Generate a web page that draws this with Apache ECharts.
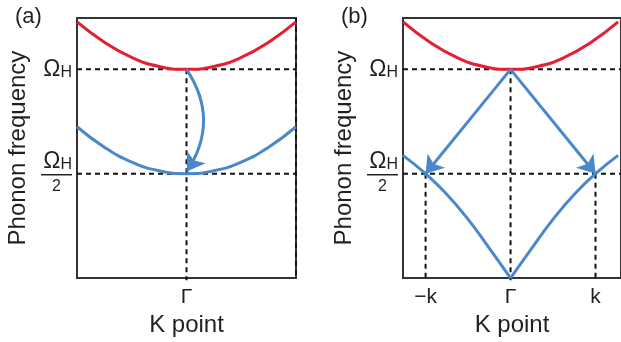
<!DOCTYPE html>
<html><head><meta charset="utf-8">
<script src="https://cdn.jsdelivr.net/npm/echarts@6/dist/echarts.min.js"></script>
<style>html,body{margin:0;padding:0;background:#fff}#c{width:621px;height:342px}</style>
</head><body><div id="c"></div>
<script>
// ---- data ----
const kA = [-1, -0.75, -0.5, -0.25, 0, 0.25, 0.5, 0.75, 1];
const upperA = [1.227, 1.13, 1.057, 1.014, 1, 1.014, 1.057, 1.13, 1.227];
const lowerA = [0.725, 0.627, 0.556, 0.514, 0.5, 0.514, 0.556, 0.627, 0.725];
const kB = [-1, -0.75, -0.5, -0.25, 0, 0.25, 0.5, 0.75, 1];
const upperB = [1.227, 1.13, 1.057, 1.014, 1, 1.014, 1.057, 1.13, 1.227];
const kBleft = [-1, -0.79, -0.6, -0.4, -0.2, 0];
const acousticLeft = [0.588, 0.5, 0.405, 0.285, 0.145, 0];
const kBright = [0, 0.2, 0.4, 0.6, 0.79, 1];
const acousticRight = [0, 0.145, 0.285, 0.405, 0.5, 0.588];
const omegaH = 1, halfOmega = 0.5, kPt = 0.79;
const xTicksA = ['Γ'];
const xTicksB = ['−k', 'Γ', 'k'];

const RED = '#e61e32', BLUE = '#4a88cb', TXT = '#231f20';
const FF = 'Liberation Sans, Arial, sans-serif';
const zip = (xs, ys) => xs.map((x, i) => [x, ys[i]]);

function yLabel(v) {
  if (Math.abs(v - omegaH) < 1e-6) return '{o|Ω}{s|H}';
  return '{o|Ω}{s|H}\n{bar|}\n{t|2}';
}
const rich = {
  o: {fontSize: 23, fontFamily: FF, color: TXT, lineHeight: 22},
  s: {fontSize: 16, fontFamily: FF, color: TXT, lineHeight: 10, verticalAlign: 'bottom'},
  bar: {width: 31, height: 1.5, lineHeight: 4, backgroundColor: TXT},
  t: {fontSize: 16, fontFamily: FF, color: TXT, width: 31, align: 'center', lineHeight: 20}
};

function yAxis(idx) {
  return {
    type: 'value', gridIndex: idx, min: 0, max: 1.246,
    name: 'Phonon frequency', nameLocation: 'middle', nameGap: 47,
    nameTextStyle: {fontSize: 24, fontFamily: FF, color: TXT},
    axisLine: {show: false}, axisTick: {show: false}, splitLine: {show: false},
    axisLabel: {customValues: [halfOmega, omegaH], formatter: yLabel, rich: rich, margin: 5, showMinLabel: true, showMaxLabel: true}
  };
}
function xAxis(idx, vals, labels, max) {
  return {
    type: 'value', gridIndex: idx, min: -1, max: max,
    name: 'K point', nameLocation: 'middle', nameGap: 30,
    nameTextStyle: {fontSize: 24, fontFamily: FF, color: TXT},
    axisLine: {show: false}, axisTick: {show: false}, splitLine: {show: false},
    axisLabel: {customValues: vals, formatter: v => labels[vals.findIndex(u => Math.abs(u - v) < 1e-6)],
      fontSize: 21, fontFamily: FF, color: TXT, margin: 9}
  };
}
function lineS(g, data, color, extra) {
  return Object.assign({type: 'line', xAxisIndex: g, yAxisIndex: g, data: data, showSymbol: false, symbol: 'none',
    lineStyle: {color: color, width: 3}, clip: true, z: 5, smooth: true, silent: true}, extra || {});
}
function dash(g, pts) {
  return {type: 'line', xAxisIndex: g, yAxisIndex: g, data: pts, symbol: 'none', silent: true, z: 3,
    lineStyle: {color: '#111', width: 2, type: [5, 4]}, clip: false};
}
function arrow(g, from, to, curv) {
  return {type: 'lines', coordinateSystem: 'cartesian2d', xAxisIndex: g, yAxisIndex: g, silent: true, z: 6,
    symbol: ['none', 'arrow'], symbolSize: [1, 17],
    lineStyle: {color: BLUE, width: 3, curveness: curv, opacity: 1},
    data: [{coords: [from, to]}]};
}

const chart = echarts.init(document.getElementById('c'), null, {renderer: 'canvas'});
chart.setOption({
  animation: false,
  title: [
    {text: '(a)', left: 10, top: 1, textStyle: {fontSize: 22, fontWeight: 'normal', fontFamily: FF, color: TXT}},
    {text: '(b)', left: 336, top: 1, textStyle: {fontSize: 22, fontWeight: 'normal', fontFamily: FF, color: TXT}}
  ],
  grid: [
    {left: 77, top: 18, width: 219, height: 263, show: true, borderColor: '#333', borderWidth: 2, backgroundColor: 'transparent'},
    {left: 403, top: 18, width: 222, height: 263, show: true, borderColor: '#333', borderWidth: 2, backgroundColor: 'transparent'}
  ],
  xAxis: [xAxis(0, [0], xTicksA, 1), xAxis(1, [-kPt, 0, kPt], xTicksB, 1.027)],
  yAxis: [yAxis(0), yAxis(1)],
  series: [
    // panel a guides
    dash(0, [[-1, omegaH], [1, omegaH]]),
    dash(0, [[-1, halfOmega], [1, halfOmega]]),
    dash(0, [[0, omegaH], [0, -0.01]]),
    dash(0, [[1, 1.246], [1, 0]]),
    lineS(0, zip(kA, upperA), RED),
    lineS(0, zip(kA, lowerA), BLUE),
    arrow(0, [0, omegaH], [0.005, 0.512], 0.33),
    // panel b guides
    dash(1, [[-1, omegaH], [1.027, omegaH]]),
    dash(1, [[-1, halfOmega], [1.027, halfOmega]]),
    dash(1, [[0, omegaH], [0, -0.01]]),
    dash(1, [[-kPt, halfOmega], [-kPt, -0.01]]),
    dash(1, [[kPt, halfOmega], [kPt, -0.01]]),
    lineS(1, zip(kB, upperB), RED),
    lineS(1, zip(kBleft, acousticLeft), BLUE),
    lineS(1, zip(kBright, acousticRight), BLUE),
    arrow(1, [0, omegaH], [-kPt, halfOmega], 0),
    arrow(1, [0, omegaH], [kPt, halfOmega], 0)
  ]
});
</script></body></html>
